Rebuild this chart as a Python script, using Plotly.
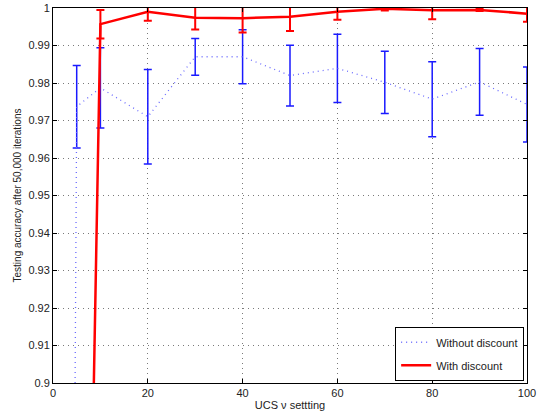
import plotly.graph_objects as go

# Without discount (blue dotted, error bars)
x_wo = [1, 5, 10, 20, 30, 40, 50, 60, 70, 80, 90, 100]
y_wo = [0.10, 0.9737, 0.9787, 0.9710, 0.9870, 0.9870, 0.9820, 0.9839, 0.9802, 0.9757, 0.9803, 0.9743]
e_wo = [0.0, 0.0110, 0.0107, 0.0126, 0.0049, 0.0072, 0.0081, 0.0091, 0.0083, 0.0100, 0.0089, 0.0100]

# With discount (red solid, error bars)
x_w = [5, 10, 20, 30, 40, 50, 60, 70, 80, 90, 100]
y_w = [0.65, 0.9957, 0.9990, 0.9974, 0.9973, 0.9977, 0.9990, 0.9998, 0.9994, 0.9995, 0.9985]
e_w = [0.0, 0.0038, 0.0024, 0.0031, 0.0038, 0.0038, 0.0021, 0.0005, 0.0024, 0.0003, 0.0022]

x_ticks = [0, 20, 40, 60, 80, 100]
y_ticks = [0.9, 0.91, 0.92, 0.93, 0.94, 0.95, 0.96, 0.97, 0.98, 0.99, 1.0]
y_tick_text = ["0.9", "0.91", "0.92", "0.93", "0.94", "0.95", "0.96", "0.97", "0.98", "0.99", "1"]

FONT = "Liberation Sans, Arial, Helvetica, sans-serif"

fig = go.Figure()
fig.add_trace(go.Scatter(
    x=x_wo, y=y_wo, mode="lines", name="Without discount",
    legendgroup="a",
    line=dict(color="#6a6aff", width=1.3, dash="1px,4px"),
    error_y=dict(type="data", array=e_wo, visible=True, color="#1a1aff",
                 thickness=1.5, width=4),
))
fig.add_trace(go.Scatter(
    x=x_w, y=y_w, mode="lines", name="With discount",
    legendgroup="b",
    line=dict(color="#ff0000", width=2.5),
    error_y=dict(type="data", array=e_w, visible=True, color="#ff0000",
                 thickness=2, width=4),
))

axis_common = dict(
    showline=True, linecolor="black", linewidth=1, mirror="ticks",
    ticks="inside", ticklen=4, tickcolor="black",
    showgrid=True, gridcolor="#7a7a7a", griddash="1px,4px", gridwidth=1,
    zeroline=False, automargin=False,
    tickfont=dict(family=FONT, size=11, color="#222"),
)

fig.update_xaxes(range=[0, 100], tickvals=x_ticks,
                 title=dict(text="UCS ν settting", font=dict(family=FONT, size=11, color="#222"), standoff=3),
                 **axis_common)
fig.update_yaxes(range=[0.9, 1.0], tickvals=y_ticks, ticktext=y_tick_text,
                 title=dict(text="Testing accuracy after 50,000 iterations", font=dict(family=FONT, size=10, color="#222"), standoff=4),
                 **axis_common)

fig.update_layout(
    width=542, height=416,
    margin=dict(l=53, r=15, t=8, b=33, autoexpand=False),
    paper_bgcolor="white", plot_bgcolor="white",
    showlegend=True,
    legend=dict(
        x=0.994, y=0.006, xanchor="right", yanchor="bottom",
        bgcolor="white", bordercolor="black", borderwidth=1,
        font=dict(family=FONT, size=11, color="#222"),
        tracegroupgap=4, itemwidth=30,
    ),
)

# remove the browser's default body margin so the figure sits at the page origin
fig.write_html("out.html",
               config={"displayModeBar": False},
               post_script="document.body.style.margin='0';document.body.style.overflow='hidden';")
